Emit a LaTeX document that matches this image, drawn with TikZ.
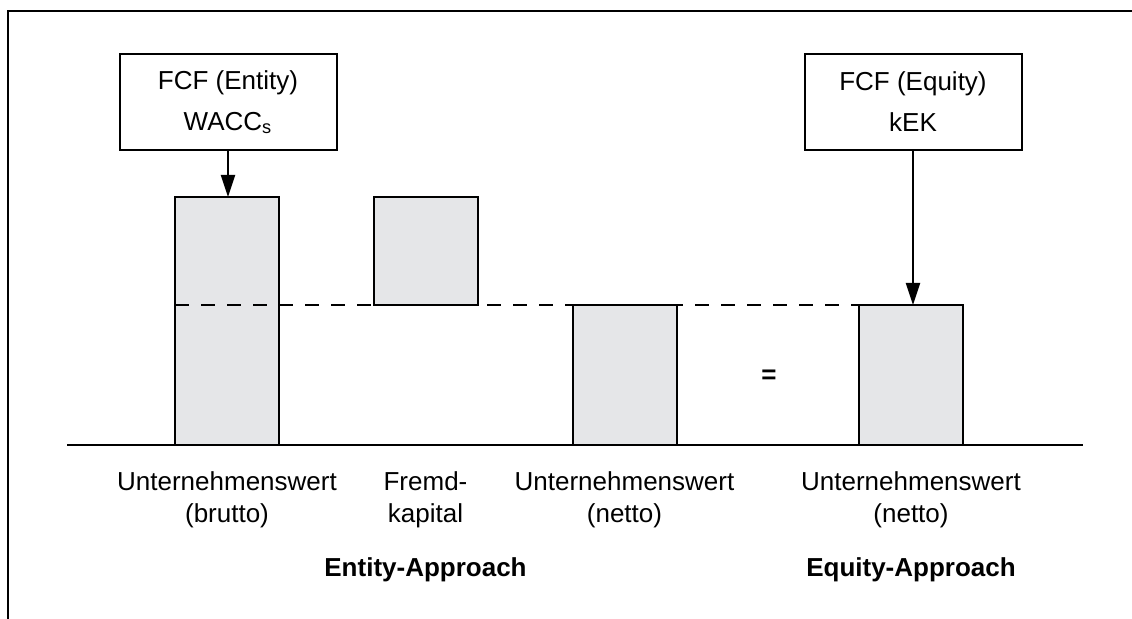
\documentclass[tikz,border=0pt]{standalone}
\usepackage{fontspec}
\setmainfont{Liberation Sans}
\usetikzlibrary{arrows.meta, positioning}
\definecolor{barfill}{HTML}{E5E6E8}

\begin{document}
\begin{tikzpicture}[x=0.5pt, y=-0.5pt, line width=1pt,
    bar/.style={draw, fill=barfill, minimum width=52pt, inner sep=0pt, outer sep=0pt},
    ratebox/.style={draw, minimum width=108.5pt, minimum height=48pt, align=center, inner sep=0pt,
        font=\fontsize{13}{16}\selectfont},
    caption/.style={align=center, anchor=base, font=\fontsize{13}{16}\selectfont},
    approach/.style={anchor=base, font=\bfseries\fontsize{13}{16}\selectfont},
    ratearrow/.style={-{Triangle[length=11pt, width=7pt]}}]
                    \useasboundingbox (0,0) rectangle (1132,619);
                    \draw (8,619) -- (8,11) -- (1132,11);

                    % Saeulen
                    \node[bar, minimum height=124pt] (brutto) at (227,321) {};
                    \node[bar, minimum height=54pt] (fremd) at (425.5,251) {};
                    \node[bar, minimum height=70pt] (netto) at (624.5,375) {};
                    \node[bar, minimum height=70pt] (nettoeq) at (911,375) {};

                    \coordinate (axisl) at (67,445);
                    \coordinate (axisr) at (1083,445);
                    \draw (axisl) -- (axisr);
                    \draw[dash pattern=on 7pt off 6pt, line width=0.8pt] (brutto.west |- fremd.south) -- (nettoeq.north west);

                    % Kapitalkosten
                    \node[ratebox] (fcfentity) at (228,102) {FCF (Entity)\\[4.5pt]WACC\textsubscript{s}};
                    \node[ratebox] (fcfequity) at (913,102) {FCF (Equity)\\[4.5pt]kEK};
                    \draw[ratearrow] (fcfentity.south) -- (fcfentity.south |- brutto.north);
                    \draw[ratearrow] (fcfequity.south) -- (fcfequity.south |- nettoeq.north);

                    \node[font=\bfseries\fontsize{13}{16}\selectfont] (gleich) at (769,377) {=};

                    % Beschriftung
                    \node[caption] (lblbrutto) at (brutto.south |- 0,523) {Unternehmenswert\\(brutto)};
                    \node[caption] (lblfremd) at (fremd.south |- 0,523) {Fremd-\\kapital};
                    \node[caption] (lblnetto) at (netto.south |- 0,523) {Unternehmenswert\\(netto)};
                    \node[caption] (lblnettoeq) at (nettoeq.south |- 0,523) {Unternehmenswert\\(netto)};
                    \node[approach] (entityapp) at (fremd.south |- 0,577) {Entity-Approach};
                    \node[approach] (equityapp) at (nettoeq.south |- 0,577) {Equity-Approach};
                \end{tikzpicture}
\end{document}
